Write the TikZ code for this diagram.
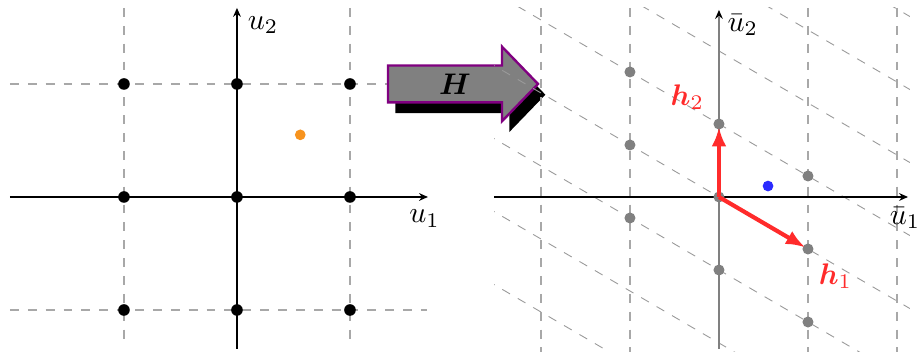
\documentclass[tikz,border=0pt]{standalone}
\usepackage{amsmath,bm}
\usepackage{xcolor}
\usepackage{tikz}
\usetikzlibrary{arrows.meta,calc,positioning}
\definecolor{grid}{HTML}{A8A8A8}
\definecolor{skew}{HTML}{9A9A9A}
\definecolor{latgray}{HTML}{808080}
\definecolor{vecred}{HTML}{FF2B2B}
\definecolor{ptblue}{HTML}{2B2BFF}
\definecolor{ptorange}{HTML}{F7931E}
\definecolor{rim}{HTML}{800080}
\tikzset{axis/.style={draw=black,line width=.5pt,-{Stealth[length=3pt,width=2.6pt]}},gridline/.style={draw=grid,dashed,line width=.5pt},skewline/.style={draw=skew,dashed,line width=.3pt},dot/.style={circle,fill=black,inner sep=0pt,minimum size=3.9pt},graydot/.style={circle,fill=latgray,inner sep=0pt,minimum size=3.7pt},vec/.style={-{Latex[length=6.5pt,width=5pt]},draw=vecred,line width=1.4pt,shorten >=-1pt}}
\begin{document}
\begin{tikzpicture}[x=1.3335cm,y=1.3335cm]
\useasboundingbox (-2.097,-1.363) rectangle (6.035,1.743);
% original lattice
\foreach \c in {-1,1}{
  \draw[gridline] (-2.009,\c) -- (1.68,\c);
  \draw[gridline] (\c,1.673) -- (\c,-1.31);
}
\draw[axis] (-2.009,0) -- (1.69,0);
\draw[axis] (0,-1.345) -- (0,1.673);
\foreach \i in {-1,0,1}{\foreach \j in {-1,0,1}{\node[dot] (p\i\j) at (\i,\j) {};}}
\node[circle,fill=ptorange,inner sep=0pt,minimum size=3.6pt] (y) at (0.56,0.55) {};
\node (u2) at (0.23,1.52) {$u_2$};
\node (u1) at (1.66,-0.19) {$u_1$};
% transformation arrow
\fill[black,shift={(0.065,-0.095)}] (1.336,0.837) -- (1.336,1.163) -- (2.345,1.163) -- (2.345,1.33) -- (2.664,1.0) -- (2.345,0.67) -- (2.345,0.837) -- cycle;
\filldraw[fill=latgray,draw=rim,line width=.8pt] (1.336,0.837) -- (1.336,1.163) -- (2.345,1.163) -- (2.345,1.33) -- (2.664,1.0) -- (2.345,0.67) -- (2.345,0.837) -- cycle;
\node (H) at (1.93,1.0) {$\bm{H}$};
% transformed lattice
\begin{scope}[shift={(4.265,0)}]
\begin{scope}
\clip (-1.99,-1.37) rectangle (1.69,1.673);
\foreach \k in {-5,...,5}
  \draw[skewline] (-2.6,{0.646*\k+0.5843*2.6}) -- (2.6,{0.646*\k-0.5843*2.6});
\end{scope}
\foreach \c in {-1.575,-0.7876,0.7876,1.575}
  \draw[gridline] (\c,1.673) -- (\c,-1.37);
\draw[axis] (-1.99,0) -- (1.673,0);
\draw[axis] (0,-1.345) -- (0,1.655);
\draw[draw=latgray,line width=.8pt] (0,-1.345) -- (0,1.6);
\foreach \i in {-1,0,1}{\foreach \j in {-1,0,1}{\node[graydot] (q\i\j) at ({0.7876*\i},{-0.4602*\i+0.646*\j}) {};}}
\node[circle,fill=ptblue,inner sep=0pt,minimum size=3.6pt] (ybar) at (0.434,0.097) {};
\draw[vec] (q00.center) -- (q10);
\draw[vec] (q00.center) -- (q01);
\node[text=vecred] (h1) at (1.03,-0.70) {$\bm{h}_1$};
\node[text=vecred] (h2) at (-0.28,0.885) {$\bm{h}_2$};
\node (ub2) at (0.21,1.52) {$\bar{u}_2$};
\node (ub1) at (1.646,-0.186) {$\bar{u}_1$};
\end{scope}
\end{tikzpicture}
\end{document}
